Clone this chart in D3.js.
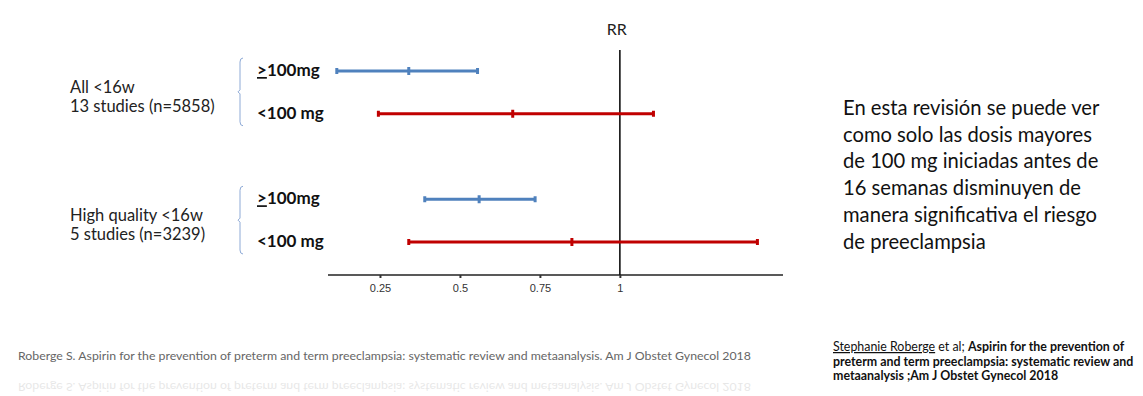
<!DOCTYPE html>
<meta charset="utf-8">
<style>
body {
	margin: 0;
	background-color: white;
}
text {
	font-family: Lato, "Open Sans", sans-serif;
}
.tick text {
	font-family: "Liberation Sans", Arial, sans-serif;
}
</style>
<html>
	<head>
		<title>Aspirin RR</title>
		<script src="https://cdn.jsdelivr.net/npm/d3@7"></script>
	</head>
	<body>
		<svg id="svgchart"></svg>

<script>
'use strict'

// data
const groupNames   = ["All <16w", "High quality <16w"]
const groupStudies = ["13 studies (n=5858)", "5 studies (n=3239)"]
const doseNames    = ["100mg", "<100 mg"]
const rowKeys      = ["all_hi", "all_lo", "gap", "hq_hi", "hq_lo"]
const rowDose      = [0, 1, 0, 1]
const rrValues     = [0.34, 0.665, 0.56, 0.85]
const rrLower      = [0.115, 0.245, 0.39, 0.34]
const rrUpper      = [0.555, 1.105, 0.735, 1.43]
const tickValues   = [0.25, 0.5, 0.75, 1]
const noteLines    = [
	"En esta revisión se puede ver",
	"como solo las dosis mayores",
	"de 100 mg iniciadas antes de",
	"16 semanas disminuyen de",
	"manera significativa el riesgo",
	"de preeclampsia"
]
const sourceText = "Roberge S. Aspirin for the prevention of preterm and term preeclampsia: systematic review and metaanalysis. Am J Obstet Gynecol 2018"

const chartWidth  = 1143,
      chartHeight = 396,
      blue        = "#4f81bd",
      red         = "#c00000"

const svg = d3.select("#svgchart")
	.attr("width", chartWidth)
	.attr("height", chartHeight)

const x = d3.scaleLinear()
	.domain([0.0875, 1.51])
	.range([328, 783])

const y = d3.scalePoint()
	.domain(rowKeys)
	.range([71, 242])

const rows = rrValues.map((v, i) => ({
	key: rowKeys.filter(k => k !== "gap")[i],
	rr: v, lo: rrLower[i], hi: rrUpper[i], dose: rowDose[i]
}))

// axis at the bottom
const axisY = 275
const axis = svg.append("g")
	.attr("transform", "translate(0," + axisY + ")")
	.call(d3.axisBottom(x).tickValues(tickValues).tickSize(3).tickPadding(6)
		.tickFormat(d => d === 1 ? "1" : String(d)))
axis.select(".domain").attr("stroke", "#222").attr("stroke-width", 1.6).attr("d", "M" + x.range()[0] + ",0H" + x.range()[1])
axis.selectAll(".tick line").attr("stroke", "#333").attr("stroke-width", 2)
axis.selectAll(".tick text").attr("font-size", 11).attr("fill", "#333")

// reference line at RR = 1
svg.append("line")
	.attr("x1", x(1)).attr("x2", x(1))
	.attr("y1", 50).attr("y2", axisY)
	.attr("stroke", "#111").attr("stroke-width", 1.6)

svg.append("text")
	.attr("x", x(1) - 3).attr("y", 35)
	.attr("text-anchor", "middle")
	.attr("font-size", 16).attr("fill", "#222")
	.text("RR")

// error bars
const bar = svg.append("g").selectAll("g")
	.data(rows)
	.enter().append("g")
	.attr("transform", d => "translate(0," + y(d.key) + ")")
	.attr("stroke", d => d.dose === 0 ? blue : red)

bar.append("line")
	.attr("x1", d => x(d.lo)).attr("x2", d => x(d.hi))
	.attr("stroke-width", 3)
bar.append("line")
	.attr("x1", d => x(d.lo)).attr("x2", d => x(d.lo))
	.attr("y1", -3).attr("y2", 3).attr("stroke-width", 3)
bar.append("line")
	.attr("x1", d => x(d.hi)).attr("x2", d => x(d.hi))
	.attr("y1", -3).attr("y2", 3).attr("stroke-width", 3)
bar.append("line")
	.attr("x1", d => x(d.rr)).attr("x2", d => x(d.rr))
	.attr("y1", -4).attr("y2", 4).attr("stroke-width", 3)

// dose labels
const doseLabel = svg.append("g").selectAll("text")
	.data(rows)
	.enter().append("text")
	.attr("x", 257)
	.attr("y", d => y(d.key) + 5)
	.attr("font-size", 17).attr("font-weight", "bold").attr("fill", "#111")
doseLabel.each(function(d) {
	const t = d3.select(this)
	if (d.dose === 0) {
		t.append("tspan").attr("text-decoration", "underline").text(">")
		t.append("tspan").text(doseNames[0])
	} else {
		t.text(doseNames[1])
	}
})

// group brackets and labels
groupNames.forEach((name, g) => {
	const top = y(rowKeys[g * 3]) - 13,
	      bot = y(rowKeys[g * 3 + 1]) + 12,
	      mid = (top + bot) / 2,
	      bx  = 240
	svg.append("path")
		.attr("d", "M" + (bx + 3) + "," + top + "Q" + bx + "," + top + " " + bx + "," + (top + 4) +
			"V" + (mid - 2) + "L" + (bx - 2) + "," + mid + "L" + bx + "," + (mid + 2) +
			"V" + (bot - 4) + "Q" + bx + "," + bot + " " + (bx + 3) + "," + bot)
		.attr("fill", "none").attr("stroke", "#8eaad6").attr("stroke-width", 1)
	svg.append("text")
		.attr("x", 70).attr("y", mid + 1)
		.attr("font-size", 16.5).attr("fill", "#222")
		.text(name)
	svg.append("text")
		.attr("x", 70).attr("y", mid + 20)
		.attr("font-size", 16.5).attr("fill", "#222")
		.text(groupStudies[g])
})

// explanatory note
svg.append("g").selectAll("text")
	.data(noteLines)
	.enter().append("text")
	.attr("x", 843)
	.attr("y", (d, i) => 115 + i * 26.7)
	.attr("font-size", 20.2).attr("fill", "#111")
	.text(d => d)

// source at the bottom left, with its faded reflection
svg.append("text")
	.attr("x", 18).attr("y", 360)
	.attr("font-size", 12.3).attr("fill", "#666")
	.text(sourceText)
svg.append("text")
	.attr("transform", "translate(0,768) scale(1,-1)")
	.attr("x", 18).attr("y", 385)
	.attr("font-size", 12.3).attr("fill", "#666").attr("opacity", 0.15)
	.text(sourceText)

// reference on the right
const ref = svg.append("g").attr("font-size", 12.4).attr("fill", "#111")
const r1 = ref.append("text").attr("x", 833).attr("y", 351)
r1.append("tspan").attr("text-decoration", "underline").text("Stephanie Roberge")
r1.append("tspan").text(" et al; ")
r1.append("tspan").attr("font-weight", "bold").text("Aspirin for the prevention of")
ref.append("text").attr("x", 833).attr("y", 366).attr("font-weight", "bold")
	.text("preterm and term preeclampsia: systematic review and")
const r3 = ref.append("text").attr("x", 833).attr("y", 380).attr("font-weight", "bold")
r3.append("tspan").text("metaanalysis ;Am J Obstet Gynecol 2018")
</script>

	</body>
</html>
